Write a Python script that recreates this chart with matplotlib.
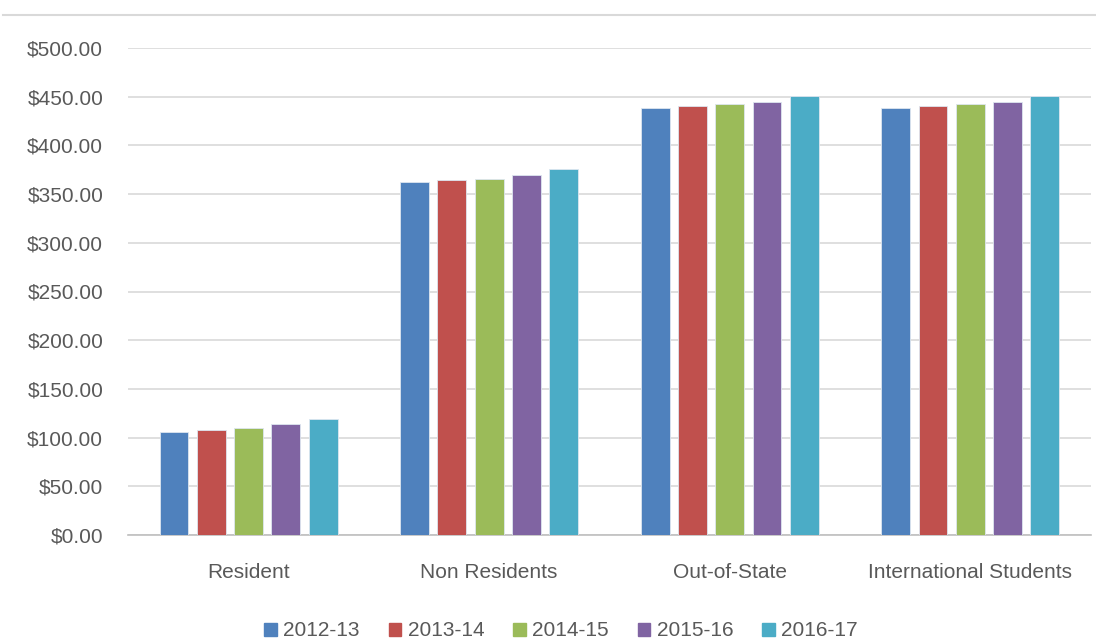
import matplotlib.pyplot as plt
import numpy as np
from matplotlib.lines import Line2D

# Data
categories = ["Resident", "Non Residents", "Out-of-State", "International Students"]
years = ["2012-13", "2013-14", "2014-15", "2015-16", "2016-17"]
fy2012 = [106, 362, 438, 438]
fy2013 = [108, 364, 440, 440]
fy2014 = [110, 366, 442, 442]
fy2015 = [114, 370, 445, 445]
fy2016 = [119, 376, 451, 451]
series = [fy2012, fy2013, fy2014, fy2015, fy2016]
colors = ["#4f81bd", "#c0504d", "#9bbb59", "#8064a2", "#4bacc6"]

plt.rcParams['font.family'] = ['Liberation Sans', 'DejaVu Sans']

fig = plt.figure(figsize=(10.96, 6.41), dpi=100)
ax = fig.add_axes([0.117, 1 - 535 / 641, 0.878, (535 - 48) / 641])

x = np.arange(len(categories))
slot = 0.155
width = 0.12
for i, vals in enumerate(series):
    ax.bar(x + (i - 2) * slot, vals, width, color=colors[i], label=years[i],
           edgecolor="#dde6f0", linewidth=0.6, zorder=3)

ax.set_xlim(-0.5, len(categories) - 0.5)
ax.set_ylim(0, 500)
ax.set_yticks(np.arange(0, 501, 50))
ax.set_yticklabels([f"${v:.2f}" for v in np.arange(0, 501, 50)])
ax.set_xticks(x)
ax.set_xticklabels(categories)

ax.grid(axis='y', color="#d9d9d9", linewidth=1.2, zorder=0)
for s in ['top', 'right', 'left']:
    ax.spines[s].set_visible(False)
ax.spines['bottom'].set_color("#bfbfbf")
ax.spines['bottom'].set_linewidth(1.2)
ax.tick_params(axis='both', length=0, labelsize=15, colors="#595959")
ax.tick_params(axis='y', pad=18)
ax.tick_params(axis='x', pad=20)

# border line at the top of the cropped chart
fig.add_artist(Line2D([0.003, 1.0], [1 - 15 / 641, 1 - 15 / 641],
                      color="#d9d9d9", linewidth=1.5))

handles = [plt.Rectangle((0, 0), 1, 1, color=c) for c in colors]
fig.legend(handles, years, loc='center', bbox_to_anchor=(0.512, 1 - 631 / 641),
           ncol=5, frameon=False, fontsize=15, handlelength=0.6, handleheight=0.6,
           handletextpad=0.3, columnspacing=1.4, labelcolor="#595959")

fig.savefig("out.png", dpi=100)
